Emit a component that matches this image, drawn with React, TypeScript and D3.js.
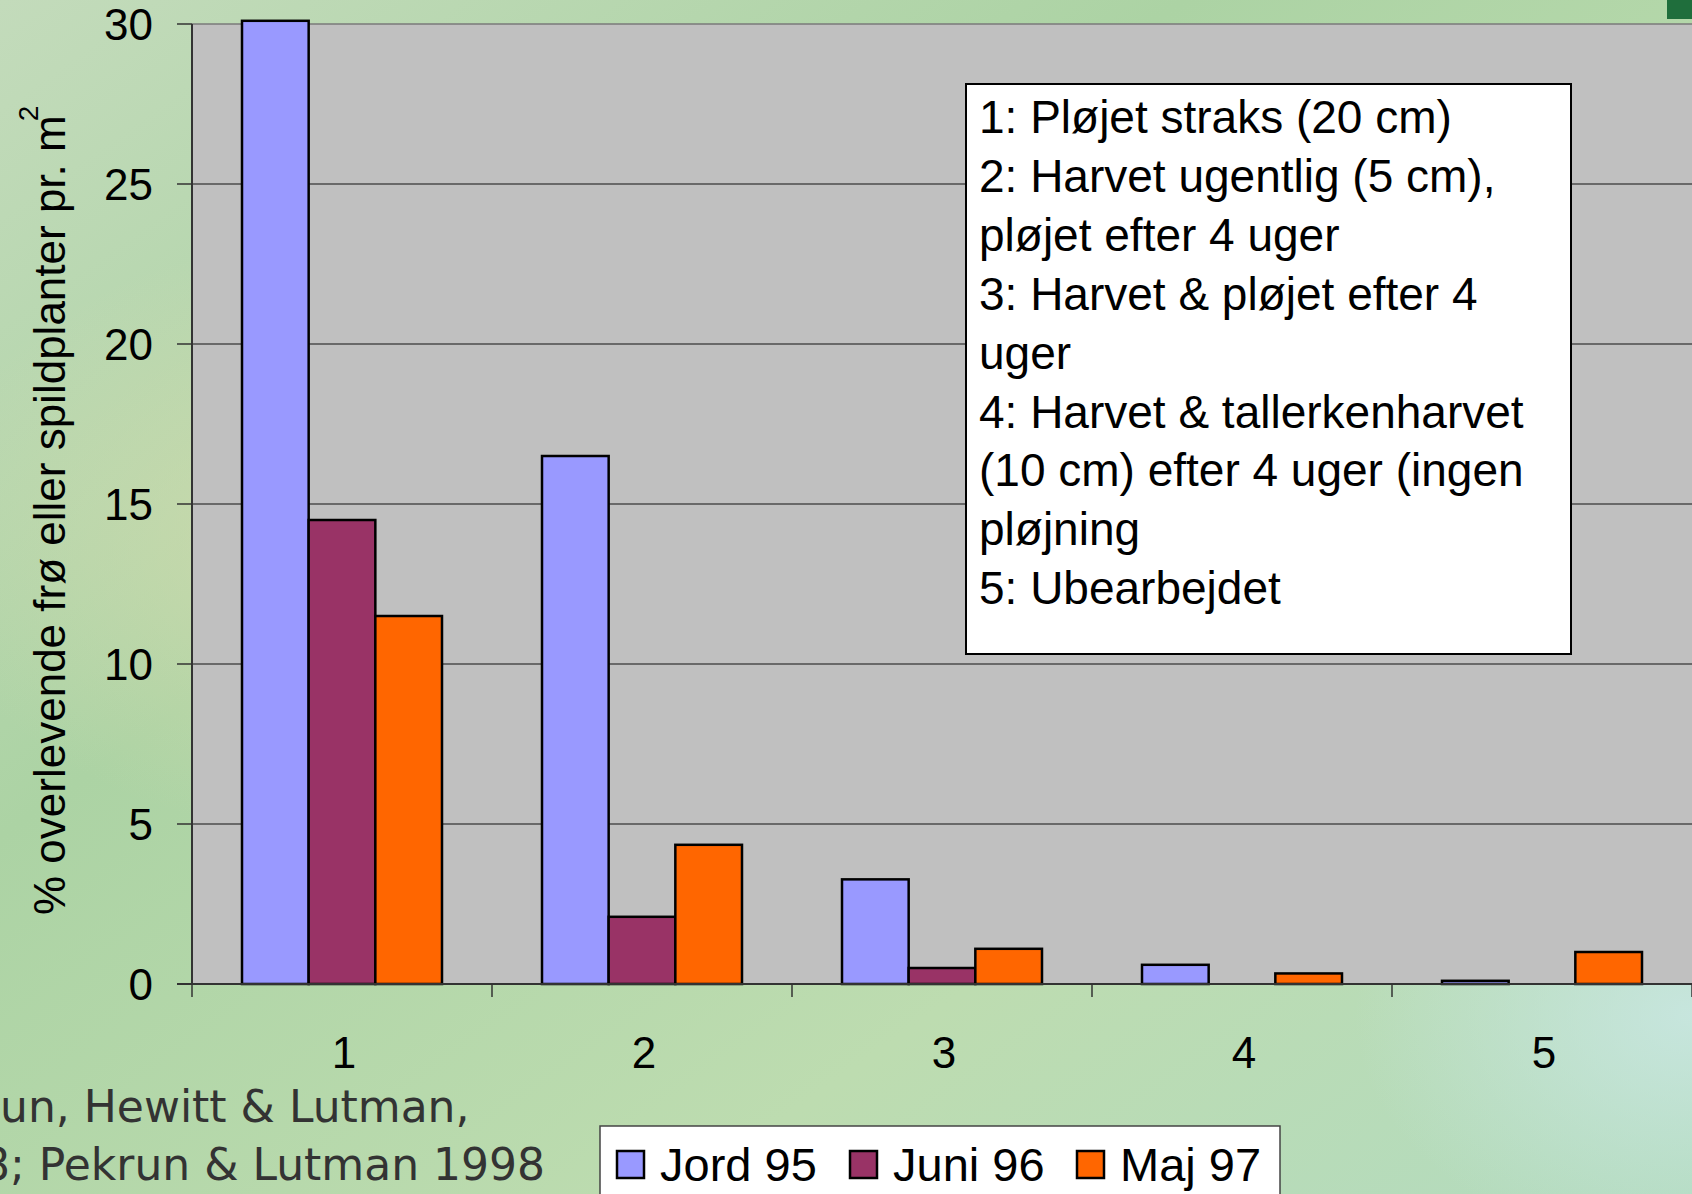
import * as d3 from "d3";

// ── Data ────────────────────────────────────────────────────────────────
const categories = ["1", "2", "3", "4", "5"];
const seriesNames = ["Jord 95", "Juni 96", "Maj 97"];
const jord95 = [30.1, 16.5, 3.27, 0.6, 0.1];
const juni96 = [14.5, 2.1, 0.5, 0, 0];
const maj97 = [11.5, 4.35, 1.1, 0.33, 1.0];
const seriesColors = ["#9999FF", "#993366", "#FF6600"];
const yTicks = [0, 5, 10, 15, 20, 25, 30];

const noteLines = [
  "1: Pløjet straks (20 cm)",
  "2: Harvet ugentlig (5 cm),",
  "pløjet efter 4 uger",
  "3: Harvet & pløjet efter 4",
  "uger",
  "4: Harvet & tallerkenharvet",
  "(10 cm) efter 4 uger (ingen",
  "pløjning",
  "5: Ubearbejdet",
];
const sourceLines = ["un, Hewitt & Lutman,", "8; Pekrun & Lutman 1998"];
const yTitle = "% overlevende frø eller spildplanter pr. m";

const W = 1692;
const H = 1194;
const margin = { top: 24, right: 0, bottom: 210, left: 192 };
const FONT = "Arial, 'Liberation Sans', sans-serif";

export default function App() {
  const values = [jord95, juni96, maj97];
  const plotW = W - margin.left - margin.right;
  const plotH = H - margin.top - margin.bottom;

  const x = d3.scaleBand().domain(categories).range([margin.left, margin.left + plotW]);
  const xInner = d3.scaleBand().domain(seriesNames).range([0, x.bandwidth()]).paddingOuter(0.75);
  const y = d3.scaleLinear().domain([0, 30]).range([margin.top + plotH, margin.top]);

  const bars = seriesNames.flatMap((s, si) =>
    categories.map((c, ci) => ({ s, si, c, v: values[si][ci] }))
  ).filter((d) => d.v > 0);

  // category boundaries get the small x ticks
  const boundaries = d3.range(categories.length + 1).map((i) => margin.left + i * x.step());

  return (
    <svg width={W} height={H} style={{ position: "absolute", left: 0, top: 0 }} fontFamily={FONT}>
      <defs>
        <linearGradient id="bg" x1="0" y1="0" x2="1" y2="1">
          <stop offset="0%" stopColor="#c3dbbb" />
          <stop offset="35%" stopColor="#acd3a4" />
          <stop offset="70%" stopColor="#bddcb0" />
          <stop offset="100%" stopColor="#b3dbbf" />
        </linearGradient>
        <radialGradient id="warm" cx="0.2" cy="0.45" r="0.25">
          <stop offset="0%" stopColor="#d8dcae" stopOpacity="0.7" />
          <stop offset="100%" stopColor="#d8dcae" stopOpacity="0" />
        </radialGradient>
        <radialGradient id="cool" cx="1" cy="0.85" r="0.2">
          <stop offset="0%" stopColor="#cbe8e6" stopOpacity="0.8" />
          <stop offset="100%" stopColor="#cbe8e6" stopOpacity="0" />
        </radialGradient>
      </defs>

      {/* slide background */}
      <rect width={W} height={H} fill="url(#bg)" />
      <rect width={W} height={H} fill="url(#warm)" />
      <rect width={W} height={H} fill="url(#cool)" />
      <rect x={1667} y={0} width={25} height={19} fill="#1f6e3c" />

      {/* plot area */}
      <rect x={margin.left} y={margin.top} width={plotW} height={plotH} fill="#C0C0C0" />

      {/* gridlines */}
      {yTicks.filter((t) => t > 0).map((t) => (
        <line key={t} x1={margin.left} x2={margin.left + plotW} y1={y(t)} y2={y(t)}
          stroke={t === 30 ? "#7a7a7a" : "#4d4d4d"} strokeWidth={1.5} />
      ))}

      {/* bars */}
      {bars.map((d) => (
        <rect key={d.s + d.c}
          x={(x(d.c) ?? 0) + (xInner(d.s) ?? 0)}
          y={y(d.v)}
          width={xInner.bandwidth()}
          height={y(0) - y(d.v)}
          fill={seriesColors[d.si]}
          stroke="#000" strokeWidth={2.5} />
      ))}

      {/* axes */}
      <line x1={margin.left} x2={margin.left} y1={margin.top} y2={y(0)} stroke="#333" strokeWidth={2} />
      <line x1={margin.left - 15} x2={margin.left + plotW} y1={y(0)} y2={y(0)} stroke="#333" strokeWidth={2} />
      {yTicks.map((t) => (
        <g key={t}>
          <line x1={margin.left - 15} x2={margin.left} y1={y(t)} y2={y(t)} stroke="#333" strokeWidth={1.5} />
          <text x={margin.left - 39} y={y(t)} textAnchor="end" dominantBaseline="central" fontSize={44} fill="#000">
            {t}
          </text>
        </g>
      ))}
      {boundaries.map((bx, i) => (
        <line key={i} x1={bx} x2={bx} y1={y(0)} y2={y(0) + 13} stroke="#333" strokeWidth={1.5} />
      ))}
      {categories.map((c) => (
        <text key={c} x={(x(c) ?? 0) + x.bandwidth() / 2 + 2} y={y(0) + 84} textAnchor="middle" fontSize={44} fill="#000">
          {c}
        </text>
      ))}

      {/* y axis title */}
      <text transform={`translate(65, 915) rotate(-90)`} fontSize={44} fill="#000">
        {yTitle}
        <tspan fontSize={28} dx={-6} dy={-27}>2</tspan>
      </text>

      {/* explanation box */}
      <rect x={966} y={84} width={605} height={570} fill="#fff" stroke="#000" strokeWidth={2} />
      {noteLines.map((l, i) => (
        <text key={i} x={979} y={133 + i * 58.9} fontSize={46} fill="#000" style={{ whiteSpace: "pre" }}>
          {l}
        </text>
      ))}

      {/* source (cut at left edge as in the slide) */}
      {sourceLines.map((l, i) => (
        <text key={i} x={i === 0 ? 0 : -18} y={1122 + i * 58} fontSize={44}
          fontFamily="'Comic Sans MS', 'DejaVu Sans', sans-serif" fill="#333" style={{ whiteSpace: "pre" }}>
          {l}
        </text>
      ))}

      {/* legend */}
      <rect x={600} y={1126} width={680} height={80} fill="#fff" stroke="#444" strokeWidth={1.5} />
      {seriesNames.map((s, i) => {
        const lx = [617, 850, 1077][i];
        return (
          <g key={s}>
            <rect x={lx} y={1151} width={27} height={27} fill={seriesColors[i]} stroke="#000" strokeWidth={2.5} />
            <text x={lx + 43} y={1181} fontSize={47} fill="#000">{s}</text>
          </g>
        );
      })}
    </svg>
  );
}
